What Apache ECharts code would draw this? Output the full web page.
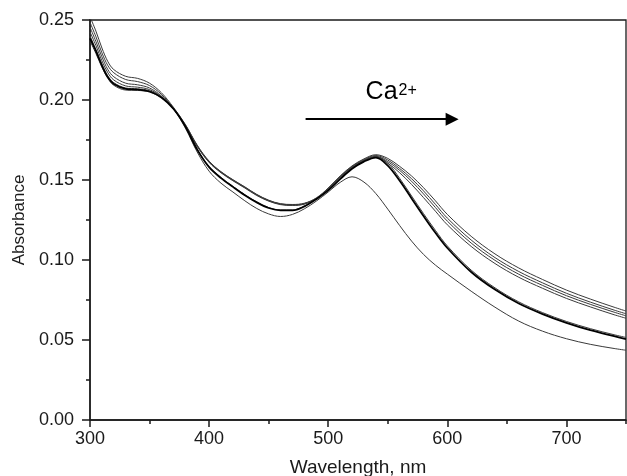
<!DOCTYPE html>
<html>
<head>
<meta charset="utf-8">
<script src="https://cdn.jsdelivr.net/npm/echarts@6/dist/echarts.min.js"></script>
<style>html,body{margin:0;padding:0;background:#fff}#c{width:627px;height:476px}</style>
</head>
<body>
<div id="c"></div>
<script>
// Wavelength grid (nm)
const wavelengths = [300,305,310,315,320,330,340,350,360,370,380,390,400,410,420,430,440,450,460,470,480,490,500,510,520,530,540,550,560,570,580,590,600,620,640,660,680,700,720,740,750];

// Spectrum 1 (thin, blue-shifted peak ~520 nm)
const absA = [0.237,0.229,0.2205,0.2135,0.2092,0.2062,0.206,0.205,0.2013,0.1945,0.1825,0.1675,0.1555,0.148,0.1425,0.137,0.1322,0.1288,0.1272,0.1285,0.132,0.1368,0.1425,0.1485,0.152,0.1487,0.1415,0.1318,0.1215,0.1118,0.1035,0.0968,0.0912,0.0805,0.0705,0.0618,0.0555,0.0508,0.0473,0.0447,0.0436];
// Spectrum 2 (bold)
const absB = [0.2385,0.2305,0.2215,0.2142,0.210,0.207,0.2065,0.2053,0.2015,0.1945,0.1835,0.169,0.158,0.1512,0.1457,0.1405,0.136,0.1325,0.131,0.131,0.1335,0.138,0.1435,0.1505,0.157,0.1615,0.164,0.159,0.1495,0.1385,0.1275,0.117,0.1075,0.0925,0.0815,0.0728,0.0662,0.0607,0.0561,0.0524,0.0506];
// Spectrum 3 (thin, close to bold)
const absC = [0.240,0.2315,0.2225,0.215,0.2108,0.2075,0.207,0.2058,0.2017,0.1945,0.1837,0.1693,0.1584,0.1516,0.146,0.1408,0.1363,0.1328,0.1313,0.1313,0.1337,0.1382,0.1438,0.1508,0.1573,0.162,0.1645,0.1605,0.151,0.140,0.129,0.1185,0.1088,0.0937,0.0826,0.0738,0.0671,0.0616,0.0571,0.0533,0.0516];
// Spectra 4-7 (thin, red-shifted)
const absD = [0.252,0.243,0.2325,0.224,0.219,0.2148,0.2135,0.2105,0.2045,0.1955,0.1848,0.1718,0.1618,0.1552,0.1502,0.1457,0.141,0.1374,0.1352,0.1347,0.1355,0.1388,0.145,0.1525,0.1588,0.1632,0.1658,0.1635,0.1585,0.1525,0.1452,0.137,0.1285,0.1148,0.1038,0.095,0.0878,0.0812,0.0756,0.0705,0.0681];
const absE = [0.2485,0.2395,0.2295,0.2215,0.217,0.2128,0.2115,0.209,0.2035,0.195,0.1845,0.1715,0.1615,0.155,0.150,0.1455,0.1408,0.1372,0.135,0.1345,0.1353,0.1386,0.1448,0.1522,0.1585,0.1628,0.1653,0.1625,0.1572,0.1508,0.1432,0.1348,0.1262,0.1125,0.1015,0.0928,0.0857,0.0792,0.0737,0.0687,0.0664];
const absF = [0.2455,0.2365,0.227,0.219,0.2145,0.2105,0.2095,0.2075,0.2025,0.1948,0.1843,0.1712,0.1612,0.1548,0.1498,0.1453,0.1406,0.137,0.1348,0.1343,0.1351,0.1384,0.1446,0.1519,0.1582,0.1624,0.1648,0.1615,0.156,0.1492,0.1413,0.1328,0.1243,0.1106,0.0998,0.0911,0.0841,0.0777,0.0723,0.0674,0.0651];
const absG = [0.2425,0.234,0.2245,0.217,0.2125,0.2088,0.208,0.2065,0.202,0.1945,0.184,0.171,0.161,0.1545,0.1495,0.145,0.1403,0.1368,0.1346,0.1341,0.1349,0.1382,0.1443,0.1516,0.1578,0.162,0.1643,0.1605,0.1545,0.1472,0.139,0.1305,0.122,0.1085,0.0978,0.0892,0.0823,0.076,0.0707,0.0658,0.0636];

const yTicks = [0, 0.05, 0.10, 0.15, 0.20, 0.25];
const xTicks = [300, 400, 500, 600, 700];
const arrowFrom = [481, 0.188];
const arrowTo = [604, 0.188];

const FONT = 'Liberation Sans, Arial, sans-serif';
const pair = (ys) => wavelengths.map((w, i) => [w, ys[i]]);

const thin = (name, ys) => ({
  name, type: 'line', data: pair(ys), showSymbol: false, smooth: 0.35,
  lineStyle: { color: '#3a3a3a', width: 1 }, z: 3
});

const chart = echarts.init(document.getElementById('c'), null, { renderer: 'canvas' });
chart.setOption({
  animation: false,
  backgroundColor: '#fff',
  grid: { left: 90, right: 1, top: 20, bottom: 56, containLabel: false, outerBoundsMode: 'none',
    show: true, borderColor: '#1a1a1a', borderWidth: 1.3, backgroundColor: 'transparent' },
  xAxis: [
    {
      type: 'value', min: 300, max: 750, interval: 100,
      name: 'Wavelength, nm', nameLocation: 'middle', nameGap: 38,
      nameTextStyle: { fontSize: 19, color: '#1a1a1a', fontFamily: FONT },
      axisLine: { lineStyle: { color: '#1a1a1a', width: 1.5 } },
      axisTick: { show: true, inside: false, length: 7, lineStyle: { color: '#1a1a1a', width: 1.5 } },
      axisLabel: { fontSize: 18, color: '#1a1a1a', fontFamily: FONT, margin: 10, showMaxLabel: false,
        formatter: v => xTicks.includes(v) ? String(v) : '' },
      splitLine: { show: false }
    },
    {
      type: 'value', min: 300, max: 750, interval: 50, position: 'bottom',
      axisLine: { show: false },
      axisTick: { show: true, length: 4, lineStyle: { color: '#1a1a1a', width: 1.5 } },
      axisLabel: { show: false }, splitLine: { show: false }
    }
  ],
  yAxis: {
    type: 'value', min: 0, max: 0.25, interval: 0.05,
    name: 'Absorbance', nameLocation: 'middle', nameGap: 61,
    nameTextStyle: { fontSize: 17, color: '#1a1a1a', fontFamily: FONT },
    axisLine: { show: true, lineStyle: { color: '#1a1a1a', width: 1.5 } },
    axisTick: { show: true, length: 8, lineStyle: { color: '#1a1a1a', width: 1.5 } },
    minorTick: { show: true, splitNumber: 2, length: 4, lineStyle: { color: '#1a1a1a', width: 1.5 } },
    axisLabel: { fontSize: 18, color: '#1a1a1a', fontFamily: FONT, margin: 16,
      formatter: v => yTicks.some(t => Math.abs(t - v) < 1e-9) ? v.toFixed(2) : '' },
    splitLine: { show: false }, minorSplitLine: { show: false }
  },
  series: [
    thin('s1', absA),
    { name: 's2', type: 'line', data: pair(absB), showSymbol: false, smooth: 0.35,
      lineStyle: { color: '#000', width: 1.8 }, z: 4 },
    thin('s3', absC),
    thin('s4', absD),
    thin('s5', absE),
    thin('s6', absF),
    {
      ...thin('s7', absG),
      markLine: {
        silent: true, symbol: ['none', 'triangle'], symbolSize: [13, 13],
        lineStyle: { color: '#000', width: 2, type: 'solid' },
        label: { show: false },
        data: [[{ coord: arrowFrom }, { coord: arrowTo }]]
      }
    }
  ]
});

const p = chart.convertToPixel({ gridIndex: 0 }, [arrowFrom[0], arrowFrom[1]]);
chart.setOption({
  graphic: [
    { type: 'text', x: p[0] + 60, y: p[1] - 27,
      style: { text: 'Ca', fill: '#000', fontSize: 25, fontFamily: FONT, verticalAlign: 'middle', align: 'left' } },
    { type: 'text', x: p[0] + 93, y: p[1] - 29,
      style: { text: '2+', fill: '#000', fontSize: 16, fontFamily: FONT, verticalAlign: 'middle', align: 'left' } }
  ]
});
</script>
</body>
</html>
